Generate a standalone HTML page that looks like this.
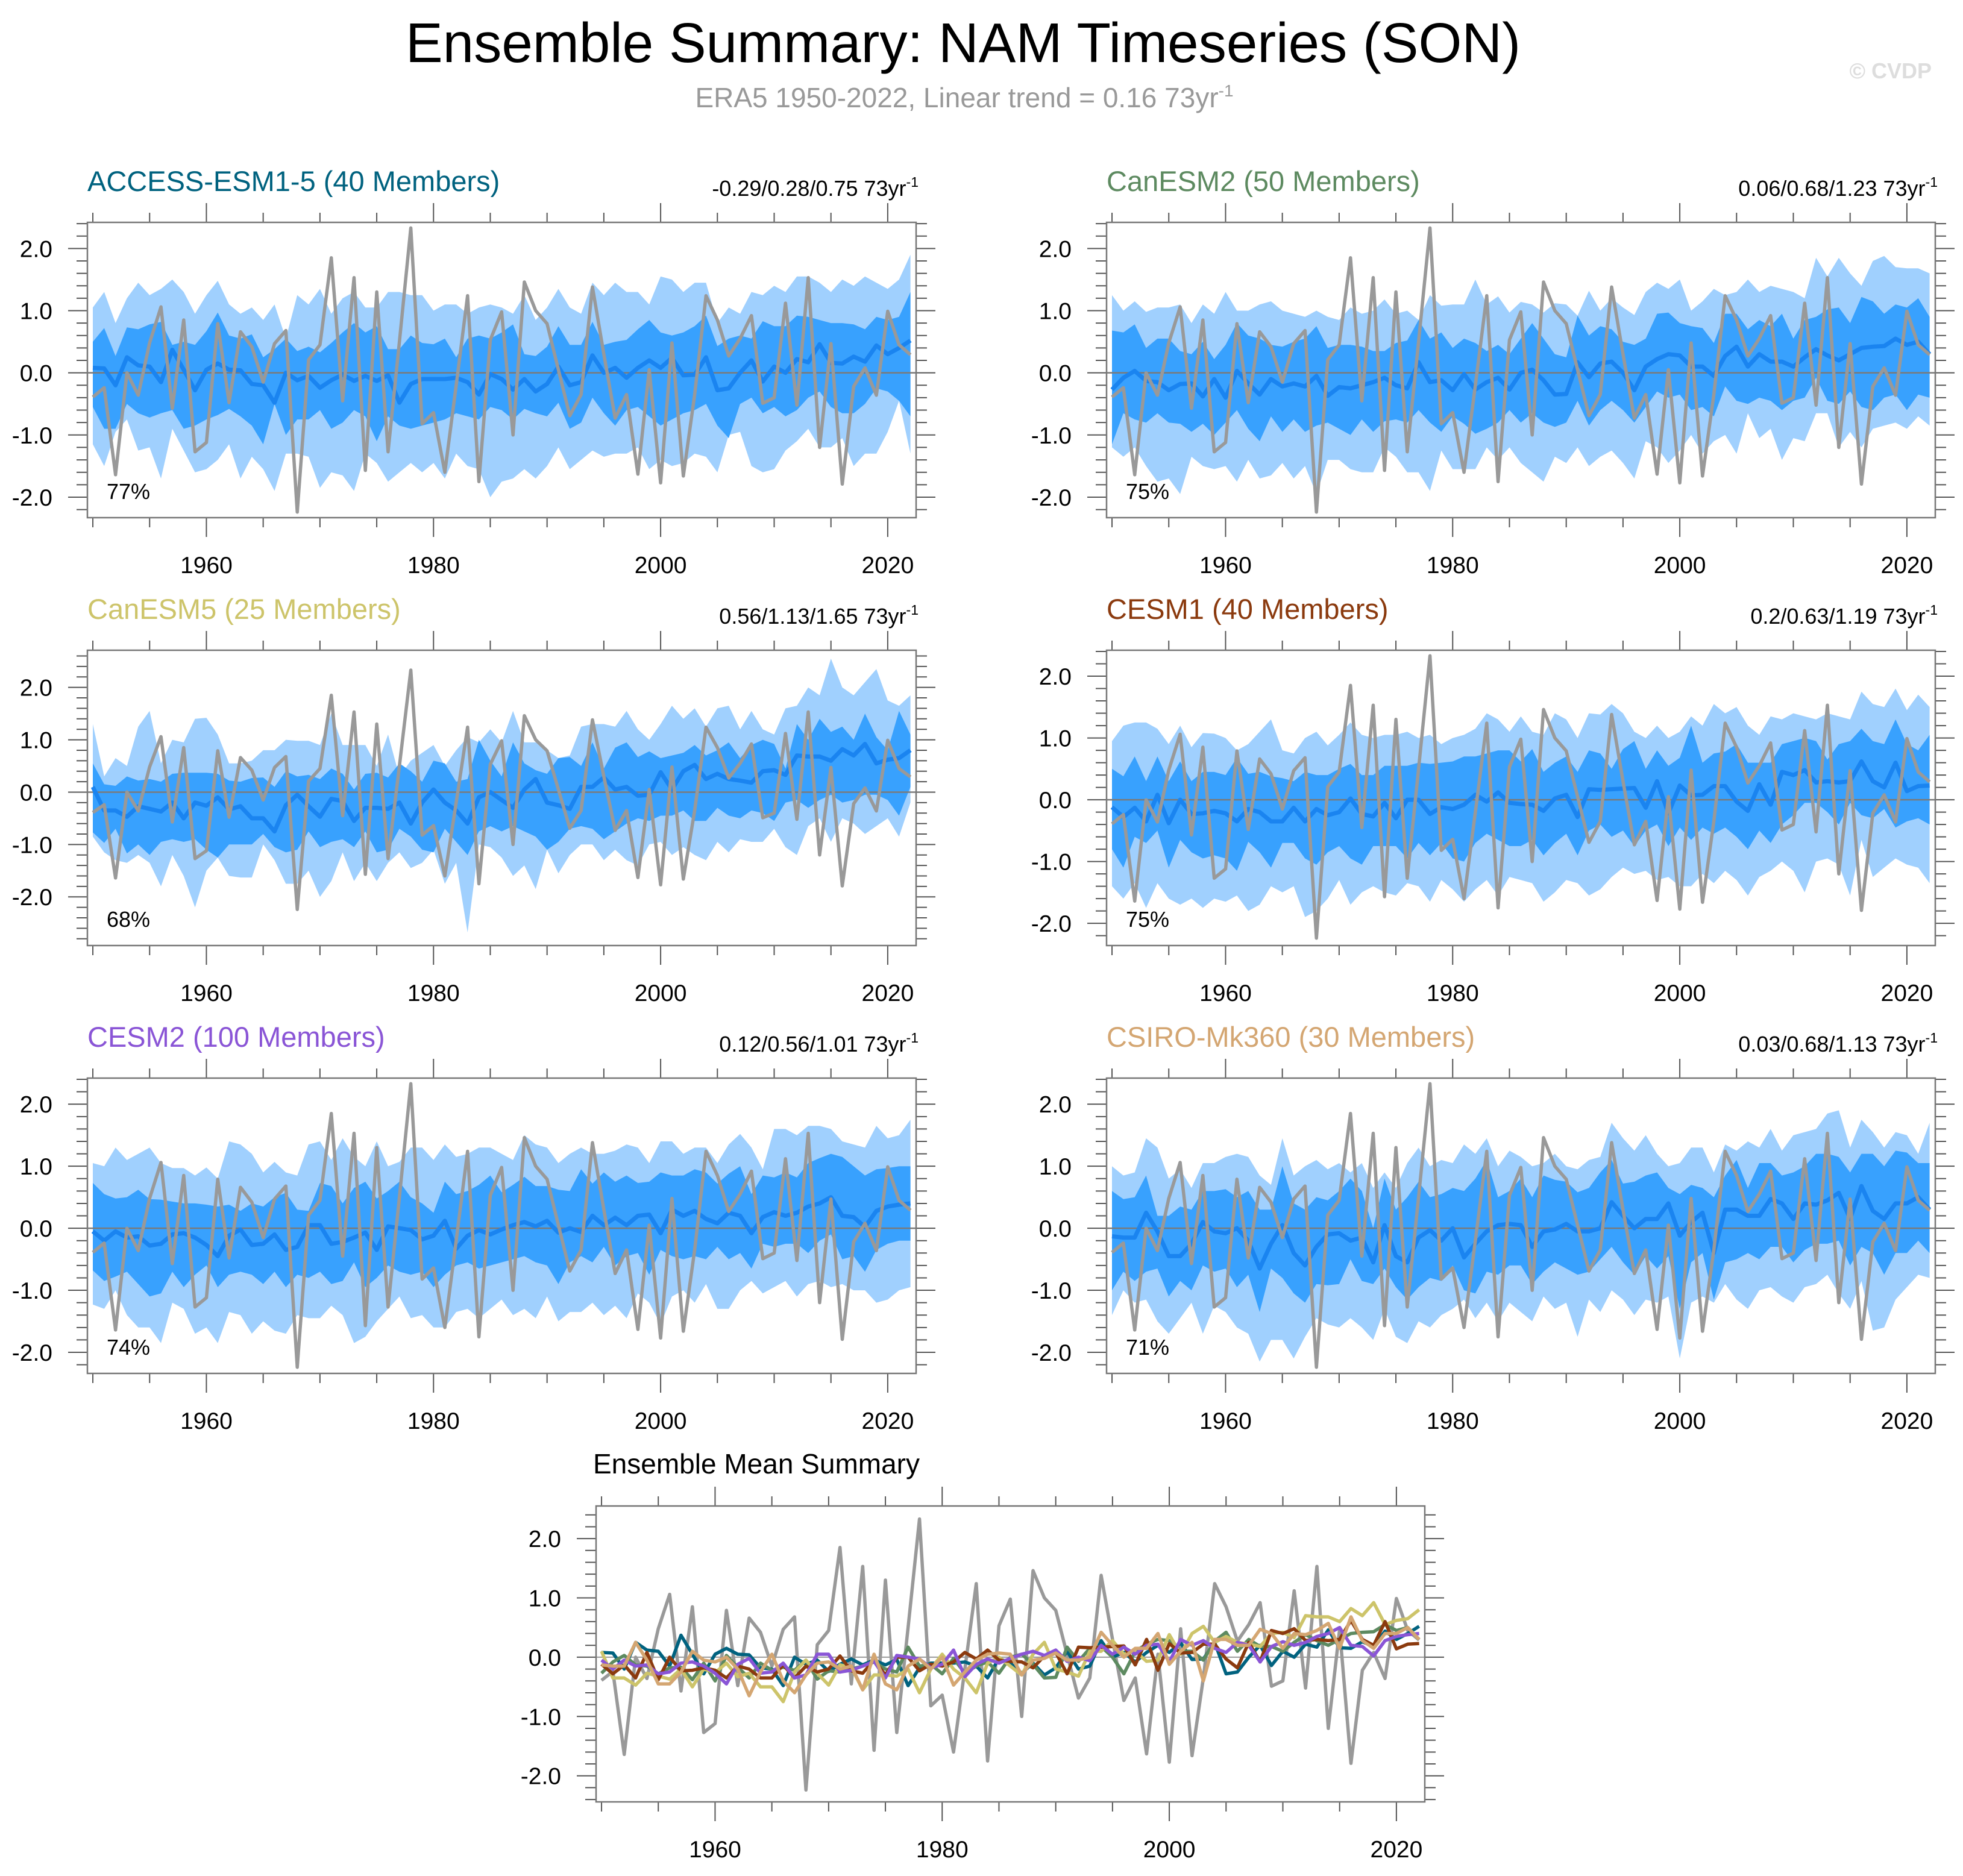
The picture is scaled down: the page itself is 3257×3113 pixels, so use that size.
<!DOCTYPE html>
<html><head><meta charset="utf-8"><title>Ensemble Summary: NAM Timeseries (SON)</title>
<style>html,body{margin:0;padding:0;background:#fff}svg{display:block}text{font-family:"Liberation Sans",Arial,sans-serif}</style>
</head><body>
<svg id="fig" xmlns="http://www.w3.org/2000/svg" width="3257" height="3113" viewBox="0 0 3257 3113">
<rect width="3257" height="3113" fill="#fff"/>
<text x="1598" y="103" font-size="93" text-anchor="middle" fill="#000" textLength="1850" lengthAdjust="spacingAndGlyphs">Ensemble Summary: NAM Timeseries (SON)</text>
<text x="1600" y="178" font-size="46" text-anchor="middle" fill="#999">ERA5 1950-2022, Linear trend = 0.16 73yr<tspan font-size="28" dy="-18">-1</tspan></text>
<text x="3205" y="130" font-size="36" font-weight="bold" text-anchor="end" fill="#ddd">© CVDP</text>
<g id="plots"></g>
</svg>
<script>
const years = [];
for (let y = 1950; y <= 2022; y++) years.push(y);

const era5 = [-0.39,-0.24,-1.64,0.0,-0.36,0.48,1.06,-0.57,0.85,-1.27,-1.12,0.79,-0.48,0.66,0.42,-0.15,0.47,0.68,-2.24,0.21,0.45,1.85,-0.45,1.53,-1.57,1.30,-1.27,0.5,2.33,-0.82,-0.64,-1.60,-0.2,1.24,-1.75,0.53,0.98,-1.0,1.46,1.0,0.79,0.05,-0.69,-0.35,1.38,0.3,-0.73,-0.35,-1.63,0.05,-1.77,0.48,-1.66,-0.35,1.24,0.85,0.27,0.55,0.92,-0.49,-0.4,1.12,-0.52,1.53,-1.2,0.47,-1.79,-0.22,0.08,-0.36,0.99,0.45,0.29];

// ACCESS-ESM1-5
const accessMean = [0.08,0.07,-0.2,0.25,0.12,0.1,-0.15,0.37,0.05,-0.28,0.05,0.15,0.05,0.04,-0.18,-0.2,-0.48,0.0,-0.12,-0.05,-0.24,-0.12,-0.03,-0.13,-0.05,-0.13,-0.04,-0.48,-0.18,-0.1,-0.1,-0.1,-0.08,-0.15,-0.35,-0.02,-0.1,-0.27,-0.1,-0.3,-0.18,0.1,-0.2,-0.15,0.28,0.0,0.08,-0.08,0.08,0.2,0.08,0.24,-0.04,-0.03,0.25,-0.28,-0.25,0.0,0.2,-0.14,0.1,0.0,0.22,0.17,0.46,0.16,0.15,0.26,0.18,0.44,0.3,0.4,0.52];
const accessDarkHi = [0.5,0.72,0.27,0.73,0.7,0.78,0.82,0.45,0.5,0.45,0.67,0.97,0.6,0.55,0.62,0.25,0.38,0.55,0.35,0.42,0.33,0.48,0.65,0.8,0.65,0.75,0.38,0.38,0.6,0.48,0.46,0.55,0.25,0.55,0.6,0.55,0.65,0.78,0.3,0.27,0.42,0.75,0.45,0.45,0.82,0.45,0.5,0.53,0.7,0.85,0.65,0.6,0.65,0.75,0.92,0.43,0.55,0.6,0.55,0.83,0.75,0.75,0.92,0.9,0.85,0.8,0.8,0.78,0.7,0.9,0.85,0.9,1.3];
const accessDarkLo = [-0.55,-0.9,-0.9,-0.5,-0.65,-0.72,-0.65,-0.6,-0.9,-0.85,-0.75,-0.68,-0.58,-0.7,-0.85,-1.15,-0.5,-1.0,-0.75,-0.75,-0.6,-0.9,-0.8,-0.6,-0.7,-1.1,-0.7,-0.85,-0.9,-0.85,-0.8,-0.75,-0.65,-0.7,-0.75,-0.55,-0.6,-0.75,-0.58,-0.65,-0.7,-0.48,-0.9,-0.8,-0.4,-0.65,-0.85,-0.6,-0.55,-0.7,-0.85,-0.75,-0.65,-0.6,-0.5,-0.85,-1.05,-0.5,-0.4,-0.65,-0.55,-0.7,-0.6,-0.4,-0.3,-0.55,-0.65,-0.65,-0.5,-0.25,-0.3,-0.45,-0.7];
const accessLightHi = [1.05,1.3,0.8,1.2,1.45,1.25,1.35,1.5,1.3,0.95,1.25,1.48,1.1,0.95,1.05,0.85,1.1,0.55,1.25,1.1,1.35,0.95,1.2,1.3,1.05,1.05,1.3,1.3,1.25,1.25,1.0,1.1,1.1,0.95,1.05,1.1,1.05,0.95,1.25,0.85,1.05,1.35,1.05,0.95,1.45,1.25,1.45,1.3,1.3,1.1,1.55,1.5,1.3,1.45,1.45,0.8,1.05,0.95,1.3,1.25,1.4,1.3,1.55,1.55,1.45,1.3,1.5,1.4,1.55,1.45,1.35,1.5,1.9];
const accessLightLo = [-1.15,-1.5,-0.95,-0.75,-1.25,-1.2,-1.7,-0.9,-1.25,-1.6,-1.55,-1.4,-1.15,-1.7,-1.35,-1.55,-1.9,-1.3,-1.3,-1.35,-1.85,-1.6,-1.65,-1.9,-1.3,-1.45,-1.75,-1.6,-1.45,-1.6,-1.45,-1.7,-1.3,-1.5,-1.55,-2.0,-1.75,-1.7,-1.55,-1.7,-1.5,-1.2,-1.55,-1.4,-1.25,-1.35,-1.3,-1.3,-1.2,-1.55,-1.4,-1.5,-1.45,-1.3,-1.35,-1.6,-1.0,-0.95,-1.5,-1.6,-1.55,-1.25,-1.1,-0.9,-1.2,-1.2,-1.05,-1.5,-1.3,-1.3,-0.95,-0.45,-1.3];

// CanESM2
const canesm2Mean = [-0.27,-0.08,0.03,-0.13,-0.15,-0.28,-0.18,-0.17,-0.38,-0.1,-0.4,0.03,-0.17,-0.35,-0.1,-0.22,-0.17,-0.22,-0.05,-0.37,-0.23,-0.25,-0.2,-0.15,-0.08,-0.2,-0.25,0.17,-0.15,-0.12,-0.28,-0.02,-0.27,-0.15,-0.08,-0.27,0.0,0.05,-0.12,-0.35,-0.34,0.17,-0.07,0.15,0.18,0.0,-0.28,0.1,0.22,0.3,0.28,0.1,0.1,-0.05,0.27,0.42,0.1,0.3,0.18,0.18,0.1,0.25,0.38,0.28,0.2,0.3,0.4,0.42,0.43,0.55,0.45,0.5,0.3];
const canesm2DarkHi = [0.68,0.65,0.78,0.4,0.55,0.55,0.35,0.3,0.5,0.22,0.45,0.8,0.6,0.55,0.45,0.42,0.5,0.55,0.75,0.4,0.45,0.45,0.42,0.35,0.35,0.48,0.52,0.85,0.55,0.65,0.4,0.55,0.48,0.35,0.45,0.3,0.55,0.8,0.55,0.3,0.25,0.92,0.6,0.75,0.7,0.5,0.45,0.55,0.95,0.97,0.8,0.75,0.72,0.48,0.95,0.95,0.7,0.85,0.75,0.95,0.55,0.85,0.9,1.02,1.05,0.8,1.22,1.15,0.95,1.1,1.05,1.2,0.9];
const canesm2DarkLo = [-1.15,-0.65,-0.75,-0.8,-0.65,-0.8,-0.82,-0.95,-0.82,-1.0,-0.8,-0.6,-0.9,-1.1,-0.7,-0.95,-0.75,-0.95,-0.85,-0.8,-0.9,-1.0,-0.75,-0.95,-0.78,-0.75,-0.8,-0.6,-0.8,-0.95,-0.7,-0.82,-0.98,-0.9,-0.8,-0.6,-0.8,-0.65,-0.8,-0.87,-0.8,-0.45,-0.85,-0.6,-0.45,-0.6,-0.8,-0.55,-0.3,-0.4,-0.35,-0.6,-0.55,-0.7,-0.22,-0.45,-0.5,-0.4,-0.45,-0.6,-0.45,-0.4,-0.08,-0.45,-0.5,-0.3,-0.55,-0.6,-0.4,-0.35,-0.6,-0.35,-0.4];
const canesm2LightHi = [1.25,1.0,1.15,0.98,1.05,1.05,1.1,0.8,1.1,0.95,1.3,1.0,1.0,1.1,1.15,1.0,0.95,0.9,1.0,0.9,0.85,1.05,0.95,1.0,1.18,0.95,1.0,0.85,1.25,1.08,1.1,1.1,1.5,1.1,1.23,0.97,1.14,1.1,0.97,1.12,1.1,0.92,1.32,1.0,1.2,1.05,0.93,1.3,1.45,1.35,1.5,1.0,1.15,1.35,1.25,1.3,1.5,1.3,1.4,1.35,1.3,1.2,1.85,1.55,1.85,1.6,1.4,1.8,1.88,1.7,1.68,1.68,1.6];
const canesm2LightLo = [-1.2,-1.35,-1.2,-1.5,-1.75,-1.7,-1.95,-1.35,-1.5,-1.55,-1.5,-1.75,-1.4,-1.7,-1.65,-1.45,-1.7,-1.5,-1.95,-1.4,-1.4,-1.55,-1.6,-1.6,-1.2,-1.35,-1.6,-1.6,-1.9,-1.25,-1.55,-1.55,-1.55,-1.2,-1.4,-1.2,-1.45,-1.6,-1.75,-1.35,-1.45,-1.2,-1.5,-1.35,-1.25,-1.45,-1.7,-1.1,-1.2,-1.45,-1.25,-1.0,-1.3,-1.1,-1.0,-1.3,-0.65,-1.05,-0.9,-1.4,-1.05,-1.1,-0.65,-0.65,-1.2,-0.95,-1.2,-0.9,-0.85,-0.8,-0.9,-0.7,-0.85];

// CanESM5
const canesm5Mean = [0.1,-0.35,-0.35,-0.47,-0.27,-0.32,-0.37,-0.2,-0.5,-0.2,-0.26,-0.1,-0.33,-0.27,-0.5,-0.5,-0.75,-0.25,-0.05,-0.27,-0.47,-0.13,-0.17,-0.55,-0.3,-0.3,-0.32,-0.2,-0.6,-0.2,0.05,-0.2,-0.35,-0.6,-0.1,0.0,-0.15,-0.3,0.05,0.25,-0.2,-0.25,-0.32,0.1,0.1,0.28,0.05,0.1,-0.07,-0.05,0.38,0.05,0.4,0.52,0.25,0.35,0.25,0.22,0.18,0.4,0.42,0.33,0.7,0.68,0.68,0.6,0.82,0.7,0.92,0.55,0.62,0.65,0.8];
const canesm5DarkHi = [0.55,0.15,0.12,0.3,0.22,0.25,0.2,0.35,0.37,0.37,0.37,0.35,0.22,0.2,0.27,0.28,0.1,0.4,0.3,0.33,0.25,0.45,0.35,0.05,0.35,0.37,0.28,0.55,0.4,0.2,0.6,0.55,0.2,0.25,1.0,0.6,0.3,0.95,0.55,0.42,0.35,0.65,0.67,0.5,0.95,0.45,0.85,0.95,0.67,0.78,0.65,0.7,0.75,0.9,0.7,0.8,0.95,0.65,0.9,1.0,0.92,0.45,1.3,1.0,1.4,1.15,1.25,1.0,1.5,1.05,0.8,1.55,1.1];
const canesm5DarkLo = [-0.77,-0.97,-0.7,-1.17,-1.0,-1.2,-0.95,-0.9,-0.95,-0.9,-1.1,-1.25,-1.0,-1.0,-1.0,-0.8,-1.05,-1.15,-1.1,-0.75,-1.05,-0.95,-0.9,-1.05,-0.75,-1.15,-1.1,-0.7,-0.85,-1.1,-1.15,-0.7,-0.95,-1.2,-0.75,-0.65,-0.75,-0.65,-0.75,-0.85,-1.1,-0.95,-0.7,-0.65,-0.7,-0.9,-0.75,-0.6,-0.5,-0.55,-0.45,-0.45,-0.35,-0.55,-0.55,-0.3,-0.45,-0.5,-0.35,-0.4,-0.55,-0.2,-0.15,-0.3,-0.15,-0.05,-0.2,-0.15,-0.05,-0.05,-0.15,-0.45,0.1];
const canesm5LightHi = [1.3,0.3,0.65,0.5,1.25,1.55,0.55,1.0,0.95,1.4,1.42,1.1,0.55,0.55,0.6,0.8,0.8,1.0,0.98,0.98,0.9,1.5,0.9,0.9,0.9,0.5,1.1,0.3,0.6,0.75,0.9,0.5,0.8,1.05,0.95,1.2,0.95,1.55,0.95,0.95,0.8,0.65,0.7,1.25,1.3,1.3,1.25,1.55,1.2,1.0,1.3,1.65,1.4,1.6,1.25,1.6,1.65,1.2,1.55,1.2,1.1,1.6,1.65,2.0,1.85,2.55,2.0,1.85,2.1,2.35,1.75,1.65,1.85];
const canesm5LightLo = [-0.85,-1.15,-1.3,-1.35,-1.2,-1.35,-1.8,-1.2,-1.6,-2.2,-1.5,-1.25,-1.6,-1.63,-1.63,-1.0,-1.3,-1.75,-1.75,-1.5,-2.0,-1.7,-1.15,-1.7,-1.35,-1.7,-1.35,-1.15,-1.45,-1.35,-1.1,-1.75,-1.35,-2.68,-1.0,-1.05,-1.25,-1.6,-1.4,-1.85,-1.1,-1.55,-1.2,-1.0,-1.0,-1.3,-1.1,-1.3,-1.4,-1.0,-0.95,-1.2,-1.05,-1.2,-1.3,-0.95,-1.15,-0.9,-0.95,-0.95,-0.7,-1.05,-1.2,-0.65,-0.5,-0.95,-0.5,-0.6,-0.8,-0.65,-0.5,-0.85,-0.2];

// CESM1
const cesm1Mean = [-0.12,-0.28,-0.13,-0.35,0.08,-0.38,0.0,-0.23,-0.22,-0.18,-0.22,-0.35,-0.15,-0.2,-0.35,-0.35,-0.13,-0.35,-0.15,-0.25,-0.2,0.02,-0.23,-0.27,-0.05,-0.3,0.0,0.0,-0.23,-0.12,-0.15,-0.08,0.08,-0.03,0.12,-0.05,-0.07,-0.08,-0.18,0.02,0.08,-0.28,0.17,0.16,0.17,0.18,0.19,-0.13,0.3,-0.22,0.23,0.07,0.08,0.22,0.22,-0.03,-0.18,0.25,-0.08,0.45,0.4,0.48,0.28,0.3,0.28,0.3,0.62,0.3,0.2,0.6,0.14,0.22,0.23];
const cesm1DarkHi = [0.5,0.38,0.7,0.3,0.7,0.3,0.62,0.3,0.45,0.45,0.4,0.68,0.42,0.45,0.38,0.35,0.3,0.45,0.4,0.4,0.5,0.58,0.4,0.4,0.55,0.55,0.55,0.6,0.58,0.6,0.62,0.7,0.7,0.75,0.8,0.8,0.62,0.82,0.45,0.6,0.7,0.45,0.8,0.75,0.5,0.82,0.95,0.5,0.8,0.55,0.68,1.2,0.6,0.75,0.78,0.9,0.6,0.6,0.6,0.9,0.95,1.0,0.95,0.65,0.9,0.95,1.15,0.95,0.9,1.3,0.9,0.8,1.05];
const cesm1DarkLo = [-0.8,-1.1,-0.6,-0.7,-0.5,-1.1,-0.65,-0.85,-0.95,-0.9,-0.95,-1.15,-0.68,-0.85,-1.1,-0.7,-0.7,-0.95,-1.05,-0.85,-0.75,-0.95,-1.05,-0.75,-0.75,-0.75,-0.95,-0.7,-0.9,-0.7,-0.95,-1.0,-0.7,-0.55,-0.65,-0.75,-0.75,-0.65,-0.9,-0.7,-0.55,-0.9,-0.5,-0.4,-0.6,-0.5,-0.75,-0.5,-0.4,-0.75,-0.45,-0.65,-0.45,-0.55,-0.45,-0.6,-0.8,-0.5,-0.7,-0.4,-0.25,-0.05,-0.05,-0.2,-0.4,-0.05,-0.25,-0.3,-0.15,-0.45,-0.35,-0.3,-0.4];
const cesm1LightHi = [0.95,1.2,1.25,1.25,1.15,0.9,1.2,0.85,1.08,1.07,1.0,0.8,0.9,1.1,1.3,0.8,0.75,1.0,1.1,0.88,1.05,1.25,1.05,1.0,1.05,1.05,1.1,1.0,1.05,0.9,1.0,1.05,1.15,1.4,1.3,1.1,1.35,1.1,1.05,1.4,1.3,1.0,1.4,1.38,1.55,1.4,1.1,1.0,1.2,1.0,1.1,1.35,1.2,1.55,1.4,1.5,1.2,1.05,1.35,1.3,1.4,1.35,1.3,1.4,1.35,1.3,1.75,1.55,1.5,1.8,1.45,1.7,1.5];
const cesm1LightLo = [-1.4,-1.6,-1.35,-1.75,-1.35,-1.6,-1.7,-1.6,-1.75,-1.6,-1.65,-1.55,-1.8,-1.7,-1.4,-1.5,-1.4,-1.9,-1.8,-1.6,-1.3,-1.7,-1.5,-1.4,-1.5,-1.55,-1.35,-1.4,-1.65,-1.3,-1.45,-1.65,-1.45,-1.3,-1.55,-1.25,-1.3,-1.35,-1.65,-1.5,-1.3,-1.35,-1.55,-1.45,-1.25,-1.1,-1.2,-1.15,-1.3,-1.25,-1.4,-1.4,-1.2,-1.35,-1.15,-1.3,-1.55,-1.25,-1.15,-1.0,-1.15,-1.5,-1.0,-0.95,-1.05,-1.55,-0.65,-1.25,-1.1,-0.95,-1.05,-1.1,-1.35];

// CESM2
const cesm2Mean = [-0.05,-0.2,-0.05,-0.15,-0.13,-0.28,-0.25,-0.1,-0.08,-0.15,-0.27,-0.45,-0.12,-0.02,-0.27,-0.25,-0.1,-0.35,-0.3,0.05,0.05,-0.25,-0.22,-0.15,-0.07,-0.35,0.03,0.0,-0.03,-0.18,-0.12,0.12,-0.33,-0.12,-0.03,-0.1,-0.02,0.05,0.1,0.03,0.12,-0.07,0.0,-0.06,0.2,0.05,0.17,0.05,0.2,0.22,-0.08,0.3,0.2,0.28,0.15,0.08,0.25,0.2,-0.08,0.18,0.26,0.2,0.25,0.35,0.4,0.5,0.2,0.18,0.02,0.28,0.35,0.38,0.4];
const cesm2DarkHi = [0.73,0.55,0.48,0.5,0.62,0.47,0.46,0.43,0.4,0.4,0.38,0.35,0.38,0.28,0.4,0.35,0.5,0.57,0.3,0.28,0.73,0.68,0.4,0.65,0.75,0.48,0.6,0.75,0.5,0.4,0.25,0.75,0.55,0.6,0.7,0.85,0.58,0.7,0.83,0.68,0.68,0.62,0.6,0.95,0.72,0.9,0.75,0.85,0.73,0.75,0.9,0.85,0.85,0.95,0.9,0.72,0.88,1.0,0.55,0.85,0.82,0.9,0.82,1.05,1.13,1.2,1.15,1.0,0.85,0.95,0.97,1.0,1.0];
const cesm2DarkLo = [-0.68,-0.85,-0.78,-0.7,-0.9,-1.1,-1.05,-0.7,-0.95,-0.75,-0.6,-0.95,-0.75,-0.7,-0.75,-0.9,-0.7,-0.95,-0.75,-0.8,-0.7,-0.9,-0.85,-0.55,-0.95,-0.8,-0.6,-0.7,-0.75,-0.7,-0.95,-0.75,-0.6,-0.55,-0.65,-0.6,-0.55,-0.5,-0.45,-0.55,-0.6,-0.9,-0.55,-0.45,-0.55,-0.3,-0.6,-0.45,-0.4,-0.75,-0.35,-0.45,-0.5,-0.45,-0.5,-0.3,-0.5,-0.4,-0.65,-0.25,-0.3,-0.25,-0.25,-0.4,-0.2,-0.1,-0.5,-0.45,-0.7,-0.35,-0.25,-0.2,-0.2];
const cesm2LightHi = [1.05,1.0,1.3,1.1,1.2,1.3,1.05,0.97,0.97,0.85,0.98,0.8,1.4,1.35,1.2,0.9,1.07,0.9,0.85,1.35,1.4,1.1,1.45,1.15,1.0,1.4,1.0,1.07,1.3,1.3,1.1,1.35,1.15,1.2,1.3,1.3,1.2,1.1,1.5,1.35,1.3,1.05,1.2,1.3,1.2,1.2,1.25,1.35,1.3,1.05,1.4,1.4,1.2,1.3,1.3,1.05,1.35,1.52,1.3,0.95,1.6,1.6,1.5,1.65,1.65,1.6,1.4,1.35,1.3,1.65,1.45,1.5,1.75];
const cesm2LightLo = [-1.23,-1.3,-1.0,-1.4,-1.6,-1.6,-1.85,-1.2,-1.3,-1.7,-1.6,-1.85,-1.35,-1.4,-1.7,-1.5,-1.65,-1.7,-1.4,-1.45,-1.45,-1.25,-1.4,-1.85,-1.75,-1.5,-1.3,-1.1,-1.45,-1.4,-1.6,-1.6,-1.35,-1.3,-1.45,-1.3,-1.15,-1.4,-1.3,-1.45,-1.1,-1.5,-1.35,-1.35,-1.2,-1.4,-1.25,-1.45,-1.05,-1.2,-1.55,-1.1,-1.0,-1.2,-0.9,-1.3,-1.3,-1.0,-0.85,-1.05,-0.95,-0.85,-1.1,-0.9,-0.85,-0.95,-0.9,-1.0,-1.0,-1.2,-1.15,-1.0,-0.95];

// CSIRO-Mk360
const csiroMean = [-0.13,-0.15,-0.15,0.25,-0.05,-0.45,-0.45,-0.25,0.1,-0.05,-0.08,0.0,-0.2,-0.65,-0.25,0.05,-0.4,-0.6,-0.3,-0.1,-0.08,-0.2,-0.15,-0.55,0.05,-0.45,-0.55,-0.15,-0.03,-0.2,0.0,-0.47,-0.25,-0.05,0.05,0.07,0.05,-0.3,-0.05,-0.02,0.07,-0.05,-0.05,0.0,0.42,0.2,0.0,0.15,0.15,0.4,-0.12,0.1,0.25,-0.4,0.3,0.3,0.2,0.2,0.47,0.4,0.15,0.4,0.38,0.45,0.57,0.15,0.68,0.28,0.15,0.4,0.4,0.5,0.3];
const csiroDarkHi = [0.6,0.47,0.5,0.85,0.2,0.2,0.35,0.3,0.6,0.6,0.63,0.5,0.6,0.3,0.3,1.0,0.4,0.3,0.5,0.45,0.6,0.8,0.6,0.0,0.8,0.3,0.5,0.75,0.5,0.55,0.65,0.6,0.8,1.1,0.5,0.6,0.8,0.5,0.85,0.78,0.75,0.58,0.65,0.9,1.1,0.72,0.75,0.85,0.9,0.65,0.55,0.7,0.65,0.5,0.85,1.1,0.65,1.05,1.05,0.85,0.9,1.0,1.2,1.2,1.15,0.9,1.2,1.2,1.0,1.25,1.22,1.05,1.05];
const csiroDarkLo = [-1.0,-0.7,-0.85,-0.7,-0.65,-1.1,-0.85,-1.0,-0.6,-0.7,-0.65,-0.95,-0.75,-1.35,-0.65,-0.8,-1.05,-1.2,-0.9,-0.92,-0.9,-0.5,-0.85,-0.9,-0.65,-0.95,-1.15,-0.95,-0.8,-0.85,-0.6,-1.0,-1.05,-0.7,-0.75,-0.6,-0.6,-0.9,-0.7,-0.55,-0.65,-0.75,-0.7,-0.5,-0.3,-0.55,-0.75,-0.45,-0.65,-0.45,-1.3,-0.55,-0.4,-1.15,-0.55,-0.5,-0.4,-0.5,-0.3,-0.3,-0.55,-0.35,-0.25,-0.25,-0.2,-0.6,-0.3,-0.4,-0.75,-0.4,-0.4,-0.2,-0.4];
const csiroLightHi = [1.0,0.85,0.9,1.45,1.3,0.8,0.95,0.65,1.05,1.05,1.15,1.2,1.15,0.85,0.7,1.45,0.85,1.0,1.1,0.95,1.05,0.9,1.05,0.65,0.9,0.65,1.05,1.3,1.0,1.1,1.05,1.35,1.2,1.45,1.0,1.25,1.15,1.0,1.05,1.2,1.0,0.95,1.1,1.15,1.7,1.45,1.25,1.5,1.2,1.0,1.05,1.3,1.3,0.9,1.35,1.25,1.4,1.3,1.6,1.25,1.5,1.55,1.6,1.85,1.9,1.3,1.75,1.55,1.3,1.55,1.5,1.2,1.7];
const csiroLightLo = [-1.4,-1.0,-1.2,-1.15,-1.5,-1.7,-1.45,-1.2,-1.7,-1.25,-1.35,-1.6,-1.7,-2.15,-1.8,-1.8,-2.1,-1.75,-1.45,-1.55,-1.6,-1.45,-1.6,-1.8,-1.3,-1.75,-1.85,-1.5,-1.6,-1.4,-1.3,-1.15,-1.45,-1.2,-1.5,-1.2,-1.35,-1.5,-1.1,-1.3,-1.2,-1.75,-1.15,-1.35,-1.0,-1.15,-1.4,-1.15,-1.2,-1.1,-2.1,-1.2,-1.1,-1.2,-0.9,-1.15,-1.3,-1.0,-0.95,-1.1,-1.2,-0.95,-0.9,-0.75,-1.05,-1.3,-0.85,-1.65,-1.6,-1.15,-0.95,-0.75,-0.8];

const yTickLabels = ["2.0","1.0","0.0","-1.0","-2.0"];
const yTickValues = [2,1,0,-1,-2];
const xTickLabels = ["1960","1980","2000","2020"];
const xTickValues = [1960,1980,2000,2020];

const NS = "http://www.w3.org/2000/svg";
const root = document.getElementById("plots");
function mk(tag, attrs, parent) {
  const e = document.createElementNS(NS, tag);
  for (const k in attrs) e.setAttribute(k, attrs[k]);
  (parent || root).appendChild(e);
  return e;
}

const panels = [
  {key:"access", title:"ACCESS-ESM1-5 (40 Members)", color:"#00627f", trend:"-0.29/0.28/0.75 73yr", pct:"77%", x0:145, y0:369, ymin:-2.33, ymax:2.42, mean:accessMean, dh:accessDarkHi, dl:accessDarkLo, lh:accessLightHi, ll:accessLightLo},
  {key:"canesm2", title:"CanESM2 (50 Members)", color:"#5d8a60", trend:"0.06/0.68/1.23 73yr", pct:"75%", x0:1836, y0:369, ymin:-2.33, ymax:2.42, mean:canesm2Mean, dh:canesm2DarkHi, dl:canesm2DarkLo, lh:canesm2LightHi, ll:canesm2LightLo},
  {key:"canesm5", title:"CanESM5 (25 Members)", color:"#cdc46a", trend:"0.56/1.13/1.65 73yr", pct:"68%", x0:145, y0:1079, ymin:-2.93, ymax:2.71, mean:canesm5Mean, dh:canesm5DarkHi, dl:canesm5DarkLo, lh:canesm5LightHi, ll:canesm5LightLo},
  {key:"cesm1", title:"CESM1 (40 Members)", color:"#8b3a0e", trend:"0.2/0.63/1.19 73yr", pct:"75%", x0:1836, y0:1079, ymin:-2.36, ymax:2.42, mean:cesm1Mean, dh:cesm1DarkHi, dl:cesm1DarkLo, lh:cesm1LightHi, ll:cesm1LightLo},
  {key:"cesm2", title:"CESM2 (100 Members)", color:"#8a55d6", trend:"0.12/0.56/1.01 73yr", pct:"74%", x0:145, y0:1789, ymin:-2.34, ymax:2.42, mean:cesm2Mean, dh:cesm2DarkHi, dl:cesm2DarkLo, lh:cesm2LightHi, ll:cesm2LightLo},
  {key:"csiro", title:"CSIRO-Mk360 (30 Members)", color:"#d4a672", trend:"0.03/0.68/1.13 73yr", pct:"71%", x0:1836, y0:1789, ymin:-2.34, ymax:2.42, mean:csiroMean, dh:csiroDarkHi, dl:csiroDarkLo, lh:csiroLightHi, ll:csiroLightLo}
];

const W = 1375, XMIN = 1949.52, XMAX = 2022.5;

function axes(g, x0, y0, H, ymin, ymax) {
  const xs = v => x0 + (v - XMIN) / (XMAX - XMIN) * W;
  const ys = v => y0 + (ymax - v) / (ymax - ymin) * H;
  return {xs, ys};
}

function drawFrame(g, x0, y0, H, ymin, ymax, xs, ys) {
  for (let yr = 1950; yr <= 2020; yr += 5) {
    const major = yr % 20 === 0;
    const L = major ? 32 : 16;
    const x = xs(yr);
    const t1 = mk("line", {x1:x, x2:x, y1:y0, y2:y0 - L, stroke:"#555", "stroke-width":2}, g);
    
    
    const t2 = mk("line", {x1:x, x2:x, y1:y0 + H, y2:y0 + H + L, stroke:"#555", "stroke-width":2}, g);
    
    
  }
  for (let k = Math.ceil(ymin * 5); k <= Math.floor(ymax * 5); k++) {
    const v = k / 5;
    const major = k % 5 === 0;
    const L = major ? 32 : 18;
    const y = ys(v);
    const t1 = mk("line", {x1:x0, x2:x0 - L, y1:y, y2:y, stroke:"#555", "stroke-width":2}, g);
    
    
    const t2 = mk("line", {x1:x0 + W, x2:x0 + W + L, y1:y, y2:y, stroke:"#555", "stroke-width":2}, g);
    
    
  }
  yTickValues.forEach((v, i) => {
    const t = mk("text", {x:x0 - 58, y:ys(v) + 14, "font-size":39, "text-anchor":"end", fill:"#000"}, g);
    
    
    t.textContent = yTickLabels[i];
  });
  xTickValues.forEach((v, i) => {
    const t = mk("text", {x:xs(v), y:y0 + H + 92, "font-size":39, "text-anchor":"middle", fill:"#000"}, g);
    
    
    t.textContent = xTickLabels[i];
  });
  const fr = mk("rect", {x:x0, y:y0, width:W, height:H, fill:"none", stroke:"#777", "stroke-width":2.5}, g);
  
  
}

function linePath(arr, xs, ys) {
  return arr.map((v, i) => (i ? "L" : "M") + xs(years[i]).toFixed(1) + " " + ys(v).toFixed(1)).join(" ");
}
function bandPath(hi, lo, xs, ys) {
  let d = hi.map((v, i) => (i ? "L" : "M") + xs(years[i]).toFixed(1) + " " + ys(v).toFixed(1)).join(" ");
  for (let i = lo.length - 1; i >= 0; i--) d += " L" + xs(years[i]).toFixed(1) + " " + ys(lo[i]).toFixed(1);
  return d + " Z";
}

const H = 490;
panels.forEach(p => {
  const g = mk("g", {});
  
  
  const {xs, ys} = axes(g, p.x0, p.y0, H, p.ymin, p.ymax);
  const light = mk("path", {d:bandPath(p.lh, p.ll, xs, ys), fill:"#a0d0fe"}, g);
  
  
  const dark = mk("path", {d:bandPath(p.dh, p.dl, xs, ys), fill:"#38a1fe"}, g);
  
  
  const zl = mk("line", {x1:p.x0, x2:p.x0 + W, y1:ys(0), y2:ys(0), stroke:"#7a7a7a", "stroke-width":2.5}, g);
  
  
  const ml = mk("path", {d:linePath(p.mean, xs, ys), fill:"none", stroke:"#1a84f0", "stroke-width":7, "stroke-linejoin":"round"}, g);
  
  
  const el = mk("path", {d:linePath(era5, xs, ys), fill:"none", stroke:"#999", "stroke-width":5.5, "stroke-linejoin":"round"}, g);
  
  
  drawFrame(g, p.x0, p.y0, H, p.ymin, p.ymax, xs, ys);
  const tt = mk("text", {x:p.x0, y:p.y0 - 52, "font-size":47, fill:p.color}, g);
  
  
  tt.textContent = p.title;
  const tr = mk("text", {x:p.x0 + W + 4, y:p.y0 - 44, "font-size":36, "text-anchor":"end", fill:"#000"}, g);
  
  
  tr.textContent = p.trend;
  const sup = mk("tspan", {"font-size":23, dy:-15}, tr);
  sup.textContent = "-1";
  const pc = mk("text", {x:p.x0 + 32, y:p.y0 + H - 31, "font-size":36, fill:"#000"}, g);
  
  
  pc.textContent = p.pct;
});

(function () {
  const x0 = 989, y0 = 2499, HB = 491, ymin = -2.44, ymax = 2.55;
  const g = mk("g", {});
  
  
  const {xs, ys} = axes(g, x0, y0, HB, ymin, ymax);
  const zl = mk("line", {x1:x0, x2:x0 + W, y1:ys(0), y2:ys(0), stroke:"#999", "stroke-width":2}, g);
  
  
  const el = mk("path", {d:linePath(era5, xs, ys), fill:"none", stroke:"#999", "stroke-width":5.5, "stroke-linejoin":"round"}, g);
  
  
  panels.forEach(p => {
    const l = mk("path", {d:linePath(p.mean, xs, ys), fill:"none", stroke:p.color, "stroke-width":5.5, "stroke-linejoin":"round"}, g);
    
    
  });
  drawFrame(g, x0, y0, HB, ymin, ymax, xs, ys);
  const tt = mk("text", {x:984, y:2445, "font-size":46, fill:"#000"}, g);
  
  
  tt.textContent = "Ensemble Mean Summary";
})();
</script>
</body></html>
